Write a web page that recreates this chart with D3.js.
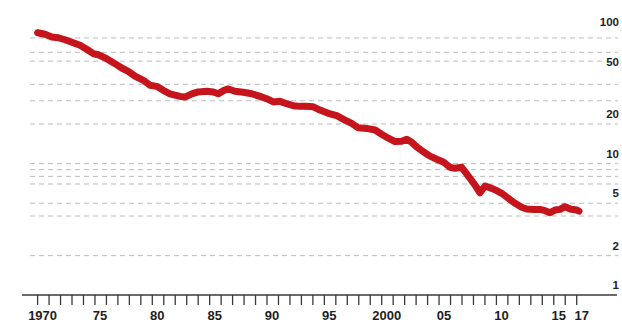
<!DOCTYPE html>
<html>
<head>
<meta charset="utf-8">
<script src="https://cdn.jsdelivr.net/npm/d3@7"></script>
<style>
  html, body { margin: 0; padding: 0; background: #fff; }
  svg { display: block; }
</style>
</head>
<body>
<script>
// Time points (decimal years) and index values
const periods = [
  1970.0, 1970.65, 1971.23, 1971.8, 1972.39, 1973.11, 1973.7, 1974.28, 1974.86, 1975.29,
  1976.02, 1976.75, 1977.33, 1977.91, 1978.49, 1979.22, 1979.8, 1980.38, 1980.96, 1981.54,
  1982.42, 1982.85, 1983.44, 1984.01, 1984.74, 1985.32, 1985.75, 1986.19, 1986.63, 1987.21,
  1987.93, 1988.67, 1989.39, 1989.97, 1990.55, 1991.13, 1991.72, 1992.29, 1992.88, 1993.31,
  1994.04, 1994.62, 1995.34, 1996.08, 1996.8, 1997.38, 1997.96, 1998.69, 1999.42, 1999.99,
  2000.58, 2001.16, 2001.74, 2002.18, 2002.62, 2003.05, 2003.63, 2004.21, 2004.8, 2005.37,
  2005.95, 2006.39, 2006.97, 2007.26, 2007.7, 2008.13, 2008.57, 2009.01, 2009.59, 2010.03,
  2010.46, 2011.04, 2011.62, 2012.21, 2012.64, 2013.22, 2013.8, 2014.24, 2014.67, 2015.11,
  2015.55, 2015.98, 2016.42, 2017.0, 2017.2
];
const values = [
  98.6, 95.9, 91.5, 90.3, 87.2, 82.8, 79.1, 73.8, 68.3, 67.1,
  62.6, 57.4, 53.2, 50.2, 46.2, 42.9, 39.3, 38.6, 36.0, 33.9,
  32.4, 32.0, 33.8, 35.0, 35.4, 35.0, 33.9, 35.8, 36.9, 35.4,
  34.8, 33.9, 32.4, 31.1, 29.4, 29.7, 28.5, 27.5, 27.2, 27.2,
  27.0, 25.5, 24.1, 23.1, 21.4, 20.2, 18.7, 18.5, 18.0, 16.7,
  15.6, 14.7, 14.8, 15.3, 14.5, 13.4, 12.3, 11.4, 10.8, 10.3,
  9.37, 9.21, 9.37, 8.68, 7.73, 6.88, 6.01, 6.76, 6.49, 6.23,
  5.95, 5.45, 5.0, 4.66, 4.52, 4.49, 4.49, 4.39, 4.24, 4.44,
  4.49, 4.71, 4.52, 4.44, 4.36
];

// Axis ticks and labels
const yearTicks = d3.range(1970, 2018);
const yearLabels = [
  [1970, "1970"], [1975, "75"], [1980, "80"], [1985, "85"], [1990, "90"], [1995, "95"],
  [2000, "2000"], [2005, "05"], [2010, "10"], [2015, "15"], [2017, "17"]
];
const gridValues = [2, 4, 5, 7, 8, 9, 10, 20, 30, 40, 60, 70, 90];
const valueLabels = [1, 2, 5, 10, 20, 50, 100];

const W = 622, H = 323;
const svg = d3.select("body").append("svg").attr("width", W).attr("height", H);
svg.append("rect").attr("width", W).attr("height", H).attr("fill", "#fff");

const x = d3.scaleLinear().domain([1970, 2017]).range([37.6, 576.7]);
const y = d3.scaleLog().domain([1, 100]).range([295.3, 31.9]);

// Dashed grid
svg.append("g").selectAll("line").data(gridValues).join("line")
  .attr("x1", 30).attr("x2", 618)
  .attr("y1", d => y(d)).attr("y2", d => y(d))
  .attr("stroke", "#bcbcbc").attr("stroke-width", 1)
  .attr("stroke-dasharray", "5,4");

// Right-hand value labels
svg.append("g").selectAll("text").data(valueLabels).join("text")
  .attr("x", 619).attr("y", d => y(d) - 6)
  .attr("text-anchor", "end")
  .attr("font-family", "'Liberation Sans', Arial, sans-serif")
  .attr("font-weight", "bold").attr("font-size", 11.5)
  .attr("fill", "#1e1e1e")
  .attr("stroke", "#fff").attr("stroke-width", 4).attr("paint-order", "stroke")
  .text(d => d);

// Bottom axis
const axis = svg.append("g");
axis.append("line")
  .attr("x1", 22).attr("x2", 617).attr("y1", 295).attr("y2", 295)
  .attr("stroke", "#3a3a3a").attr("stroke-width", 1.6);
axis.selectAll("line.tick").data(yearTicks).join("line").attr("class", "tick")
  .attr("x1", d => x(d)).attr("x2", d => x(d))
  .attr("y1", 295).attr("y2", 305)
  .attr("stroke", "#3a3a3a").attr("stroke-width", 1.3);
axis.selectAll("text").data(yearLabels).join("text")
  .attr("x", d => x(d[0]) + 5).attr("y", 320)
  .attr("text-anchor", "middle")
  .attr("font-family", "'Liberation Sans', Arial, sans-serif")
  .attr("font-weight", "bold").attr("font-size", 13)
  .attr("fill", "#1e1e1e")
  .text(d => d[1]);

// Series line
const pts = periods.map((p, i) => [p, values[i]]);
svg.append("path")
  .attr("d", d3.line().x(d => x(d[0])).y(d => y(d[1])).curve(d3.curveLinear)(pts))
  .attr("fill", "none")
  .attr("stroke", "#c5141c")
  .attr("stroke-width", 7)
  .attr("stroke-linejoin", "round")
  .attr("stroke-linecap", "round");
</script>
</body>
</html>
